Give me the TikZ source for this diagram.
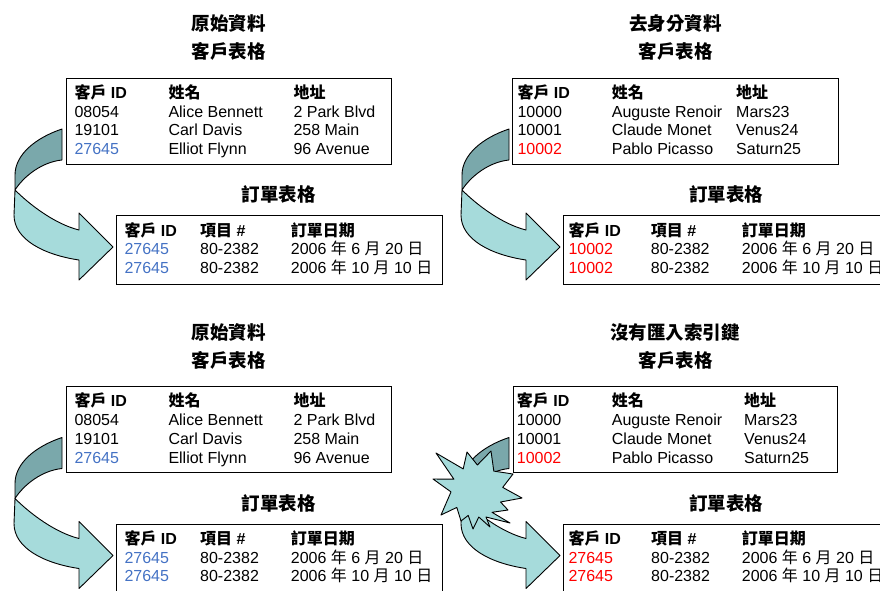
\documentclass[tikz,border=0pt]{standalone}
\usepackage{fontspec}
\setmainfont{Liberation Sans}
\newfontfamily\cjk{Noto Sans CJK TC}
\definecolor{arrdark}{RGB}{122,168,171}
\definecolor{arrlight}{RGB}{166,219,219}
\definecolor{idblue}{RGB}{68,114,196}
\definecolor{idred}{RGB}{255,0,0}
\newcommand\C[1]{{\cjk #1}}
\newcommand\tfont{\fontsize{16}{19}\selectfont}
\newcommand\hfont{\fontsize{18.5}{22}\selectfont\bfseries\cjk}
\tikzset{
  cell/.style={anchor=base west, inner sep=0pt, font=\tfont},
  hcell/.style={cell, font=\tfont\bfseries},
  ttl/.style={inner sep=0pt, font=\hfont},
  tbl/.style={draw=black, line width=1.2pt},
  arrd/.style={fill=arrdark, draw=black, line width=0.9pt, line join=round},
  arrl/.style={fill=arrlight, draw=black, line width=0.9pt, line join=round},
  blueid/.style={cell, text=idblue},
  redid/.style={cell, text=idred},
}
\newcommand\curvarrow[2]{%
  \begin{scope}[shift={(#1,#2)}]
    \draw[arrd] (62,129) .. controls (35,138) and (15,155) .. (15,175) -- (15,190)
      .. controls (24,176) and (42,162) .. (62,160) -- cycle;
    \draw[arrl] (15,190) .. controls (30,205) and (55,224) .. (79,230) -- (79,213)
      -- (113,247) -- (79,280) -- (79,260)
      .. controls (45,255) and (14,240) .. (14,215) -- cycle;
  \end{scope}}
\begin{document}
\begin{tikzpicture}[x=1pt,y=-1pt]
\useasboundingbox (0,0) rectangle (880,590);
\clip (0,0) rectangle (880,590);

% ---------------- top-left panel ----------------
\curvarrow{0}{0}
\node[ttl] (t1a) at (228.7,23.5) {原始資料};
\node[ttl] (t1b) at (228.7,51.5) {客戶表格};
\draw[tbl] (66.3,78.3) rectangle (391.7,164.3);
\node[hcell] (a1h1) at (74.3,98) {\C{客戶} ID};
\node[hcell] (a1h2) at (168.3,98) {\C{姓名}};
\node[hcell] (a1h3) at (293.3,98) {\C{地址}};
\node[cell] (a1r1a) at (74.3,117) {08054};
\node[cell] (a1r1b) at (168.3,117) {Alice Bennett};
\node[cell] (a1r1c) at (293.3,117) {2 Park Blvd};
\node[cell] (a1r2a) at (74.3,135.7) {19101};
\node[cell] (a1r2b) at (168.3,135.7) {Carl Davis};
\node[cell] (a1r2c) at (293.3,135.7) {258 Main};
\node[blueid] (a1r3a) at (74.3,154.5) {27645};
\node[cell] (a1r3b) at (168.3,154.5) {Elliot Flynn};
\node[cell] (a1r3c) at (293.3,154.5) {96 Avenue};
\node[ttl] (t1c) at (278.8,194.5) {訂單表格};
\draw[tbl] (116.7,215.7) rectangle (442.3,284.3);
\node[hcell] (b1h1) at (124.3,236) {\C{客戶} ID};
\node[hcell] (b1h2) at (200,236) {\C{項目} \#};
\node[hcell] (b1h3) at (290.7,236) {\C{訂單日期}};
\node[blueid] (b1r1a) at (124.3,254.5) {27645};
\node[cell] (b1r1b) at (200,254.5) {80-2382};
\node[cell] (b1r1c) at (290.7,254.5) {2006 \C{年} 6 \C{月} 20 \C{日}};
\node[blueid] (b1r2a) at (124.3,273) {27645};
\node[cell] (b1r2b) at (200,273) {80-2382};
\node[cell] (b1r2c) at (290.7,273) {2006 \C{年} 10 \C{月} 10 \C{日}};

% ---------------- top-right panel ----------------
\curvarrow{447}{0}
\node[ttl] (t2a) at (675.5,23.5) {去身分資料};
\node[ttl] (t2b) at (675.5,51.5) {客戶表格};
\draw[tbl] (512.7,78.3) rectangle (838.3,164.3);
\node[hcell] (a2h1) at (517.3,98) {\C{客戶} ID};
\node[hcell] (a2h2) at (611.7,98) {\C{姓名}};
\node[hcell] (a2h3) at (736,98) {\C{地址}};
\node[cell] (a2r1a) at (517.3,117) {10000};
\node[cell] (a2r1b) at (611.7,117) {Auguste Renoir};
\node[cell] (a2r1c) at (736,117) {Mars23};
\node[cell] (a2r2a) at (517.3,135.7) {10001};
\node[cell] (a2r2b) at (611.7,135.7) {Claude Monet};
\node[cell] (a2r2c) at (736,135.7) {Venus24};
\node[redid] (a2r3a) at (517.3,154.5) {10002};
\node[cell] (a2r3b) at (611.7,154.5) {Pablo Picasso};
\node[cell] (a2r3c) at (736,154.5) {Saturn25};
\node[ttl] (t2c) at (726,194.5) {訂單表格};
\draw[tbl] (563.3,215.7) rectangle (889,284.3);
\node[hcell] (b2h1) at (568.3,236) {\C{客戶} ID};
\node[hcell] (b2h2) at (650.7,236) {\C{項目} \#};
\node[hcell] (b2h3) at (741.7,236) {\C{訂單日期}};
\node[redid] (b2r1a) at (568.3,254.5) {10002};
\node[cell] (b2r1b) at (650.7,254.5) {80-2382};
\node[cell] (b2r1c) at (741.7,254.5) {2006 \C{年} 6 \C{月} 20 \C{日}};
\node[redid] (b2r2a) at (568.3,273) {10002};
\node[cell] (b2r2b) at (650.7,273) {80-2382};
\node[cell] (b2r2c) at (741.7,273) {2006 \C{年} 10 \C{月} 10 \C{日}};

% ---------------- bottom-left panel ----------------
\curvarrow{0}{308.5}
\begin{scope}[shift={(0,308.5)}]
\node[ttl] (t3a) at (228.7,23.5) {原始資料};
\node[ttl] (t3b) at (228.7,51.5) {客戶表格};
\draw[tbl] (66.3,78.3) rectangle (391.7,164.3);
\node[hcell] (a3h1) at (74.3,98) {\C{客戶} ID};
\node[hcell] (a3h2) at (168.3,98) {\C{姓名}};
\node[hcell] (a3h3) at (293.3,98) {\C{地址}};
\node[cell] (a3r1a) at (74.3,117) {08054};
\node[cell] (a3r1b) at (168.3,117) {Alice Bennett};
\node[cell] (a3r1c) at (293.3,117) {2 Park Blvd};
\node[cell] (a3r2a) at (74.3,135.7) {19101};
\node[cell] (a3r2b) at (168.3,135.7) {Carl Davis};
\node[cell] (a3r2c) at (293.3,135.7) {258 Main};
\node[blueid] (a3r3a) at (74.3,154.5) {27645};
\node[cell] (a3r3b) at (168.3,154.5) {Elliot Flynn};
\node[cell] (a3r3c) at (293.3,154.5) {96 Avenue};
\node[ttl] (t3c) at (278.8,194.5) {訂單表格};
\draw[tbl] (116.7,215.7) rectangle (442.3,284.3);
\node[hcell] (b3h1) at (124.3,236) {\C{客戶} ID};
\node[hcell] (b3h2) at (200,236) {\C{項目} \#};
\node[hcell] (b3h3) at (290.7,236) {\C{訂單日期}};
\node[blueid] (b3r1a) at (124.3,254.5) {27645};
\node[cell] (b3r1b) at (200,254.5) {80-2382};
\node[cell] (b3r1c) at (290.7,254.5) {2006 \C{年} 6 \C{月} 20 \C{日}};
\node[blueid] (b3r2a) at (124.3,273) {27645};
\node[cell] (b3r2b) at (200,273) {80-2382};
\node[cell] (b3r2c) at (290.7,273) {2006 \C{年} 10 \C{月} 10 \C{日}};
\end{scope}

% ---------------- bottom-right panel ----------------
\curvarrow{447}{308.5}
\begin{scope}[shift={(0,308.5)}]
\node[ttl] (t4a) at (675,23.5) {沒有匯入索引鍵};
\node[ttl] (t4b) at (675.5,51.5) {客戶表格};
\draw[tbl] (513.3,78.3) rectangle (837.7,164.3);
\node[hcell] (a4h1) at (516.7,98) {\C{客戶} ID};
\node[hcell] (a4h2) at (611.7,98) {\C{姓名}};
\node[hcell] (a4h3) at (744,98) {\C{地址}};
\node[cell] (a4r1a) at (516.7,117) {10000};
\node[cell] (a4r1b) at (611.7,117) {Auguste Renoir};
\node[cell] (a4r1c) at (744,117) {Mars23};
\node[cell] (a4r2a) at (516.7,135.7) {10001};
\node[cell] (a4r2b) at (611.7,135.7) {Claude Monet};
\node[cell] (a4r2c) at (744,135.7) {Venus24};
\node[redid] (a4r3a) at (516.7,154.5) {10002};
\node[cell] (a4r3b) at (611.7,154.5) {Pablo Picasso};
\node[cell] (a4r3c) at (744,154.5) {Saturn25};
\node[ttl] (t4c) at (726,194.5) {訂單表格};
\draw[tbl] (563.3,215.7) rectangle (889,284.3);
\node[hcell] (b4h1) at (568.3,236) {\C{客戶} ID};
\node[hcell] (b4h2) at (651,236) {\C{項目} \#};
\node[hcell] (b4h3) at (741.7,236) {\C{訂單日期}};
\node[redid] (b4r1a) at (568.3,254.5) {27645};
\node[cell] (b4r1b) at (651,254.5) {80-2382};
\node[cell] (b4r1c) at (741.7,254.5) {2006 \C{年} 6 \C{月} 20 \C{日}};
\node[redid] (b4r2a) at (568.3,273) {27645};
\node[cell] (b4r2b) at (651,273) {80-2382};
\node[cell] (b4r2c) at (741.7,273) {2006 \C{年} 10 \C{月} 10 \C{日}};
\end{scope}

% explosion star
\begin{scope}[shift={(477,491)}]
\draw[arrl] (-44,-12) -- (-23.1,-11.8) -- (-41,-38) -- (-13.8,-22.1) -- (-10,-39)
  -- (0.4,-26) -- (14,-40) -- (16.8,-19.9) -- (36,-17) -- (25.7,-3.6)
  -- (45,7) -- (23.5,11) -- (31,19) -- (15,21.3) -- (33,32) -- (9,26)
  -- (13,36) -- (1.8,26) -- (-4,38) -- (-8.8,24.4) -- (-16,30) -- (-20.2,16.4)
  -- (-36,24) -- (-26,0.9) -- cycle;
\end{scope}
\end{tikzpicture}
\end{document}
